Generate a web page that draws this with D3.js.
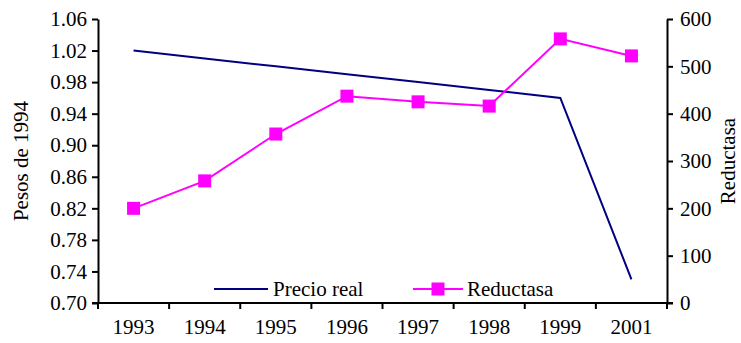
<!DOCTYPE html>
<html>
<head>
<meta charset="utf-8">
<script src="https://cdn.jsdelivr.net/npm/d3@7"></script>
<style>
  body { margin: 0; background: #fff; }
  svg { display: block; font-family: "Liberation Serif", "Times New Roman", serif; }
</style>
</head>
<body>
<svg id="chart"></svg>
<script>
// data
const years = ["1993", "1994", "1995", "1996", "1997", "1998", "1999", "2001"]
const precioReal = [1.02, 1.01, 1.00, 0.99, 0.98, 0.97, 0.96, 0.73]
const reductasa = [200, 258, 357, 437, 425, 416, 558, 522]
const leftTicks = [0.70, 0.74, 0.78, 0.82, 0.86, 0.90, 0.94, 0.98, 1.02, 1.06]
const rightTicks = [0, 100, 200, 300, 400, 500, 600]

const
    svgWidth = 741,
    svgHeight = 343,
    LEFT = 98,
    RIGHT = 667,
    TOP = 19,
    BOTTOM = 303,
    FS = 21

const svg = d3.select('#chart')
    .attr('width', svgWidth)
    .attr('height', svgHeight)

const x = d3.scaleBand().domain(years).range([LEFT, RIGHT])
const yL = d3.scaleLinear().domain([0.70, 1.06]).range([BOTTOM, TOP])
const yR = d3.scaleLinear().domain([0, 600]).range([BOTTOM, TOP])

// left axis
const axL = svg.append('g')
    .attr('transform', `translate(${LEFT},0)`)
    .call(d3.axisLeft(yL).tickValues(leftTicks).tickFormat(d3.format('.2f')).tickSize(6).tickPadding(5).tickSizeOuter(0))

// right axis
const axR = svg.append('g')
    .attr('transform', `translate(${RIGHT},0)`)
    .call(d3.axisRight(yR).tickValues(rightTicks).tickSize(6).tickPadding(7).tickSizeOuter(0))

// bottom axis, ticks at category boundaries
const axB = svg.append('g')
    .attr('transform', `translate(0,${BOTTOM})`)
    .call(d3.axisBottom(x).tickSize(0).tickPadding(16).tickSizeOuter(0))

axB.selectAll('.tick')
    .append('line')
    .attr('x1', -x.bandwidth() / 2).attr('x2', -x.bandwidth() / 2)
    .attr('y1', 0).attr('y2', 6)
axB.append('line')
    .attr('x1', RIGHT).attr('x2', RIGHT)
    .attr('y1', 0).attr('y2', 6)

;[axL, axR, axB].forEach(a => {
    a.attr('font-family', null).attr('font-size', null)
    a.selectAll('.domain').attr('stroke', '#000').attr('stroke-width', 2)
    a.selectAll('line').attr('stroke', '#000').attr('stroke-width', 2)
    a.selectAll('text').attr('font-size', FS).attr('fill', '#000')
})
axB.select('.domain').attr('d', `M${LEFT - 6},0H${RIGHT + 6}`)

// axis titles
svg.append('text')
    .attr('transform', `translate(28,${(TOP + BOTTOM) / 2}) rotate(-90)`)
    .attr('text-anchor', 'middle')
    .attr('font-size', FS)
    .text('Pesos de 1994')
svg.append('text')
    .attr('transform', `translate(735,${(TOP + BOTTOM) / 2}) rotate(-90)`)
    .attr('text-anchor', 'middle')
    .attr('font-size', FS)
    .text('Reductasa')

const cx = d => x(d) + x.bandwidth() / 2

// Precio real line
svg.append('path')
    .datum(precioReal)
    .attr('fill', 'none')
    .attr('stroke', '#000080')
    .attr('stroke-width', 2)
    .attr('d', d3.line().x((d, i) => cx(years[i])).y(d => yL(d)))

// Reductasa line + markers
svg.append('path')
    .datum(reductasa)
    .attr('fill', 'none')
    .attr('stroke', '#ff00ff')
    .attr('stroke-width', 2)
    .attr('d', d3.line().x((d, i) => cx(years[i])).y(d => yR(d)))

const M = 13
svg.selectAll('.marker')
    .data(reductasa)
    .join('rect')
    .attr('class', 'marker')
    .attr('x', (d, i) => cx(years[i]) - M / 2)
    .attr('y', d => yR(d) - M / 2)
    .attr('width', M)
    .attr('height', M)
    .attr('fill', '#ff00ff')

// legend
const lg = svg.append('g')
lg.append('line')
    .attr('x1', 214).attr('x2', 268).attr('y1', 289).attr('y2', 289)
    .attr('stroke', '#000080').attr('stroke-width', 2)
lg.append('text')
    .attr('x', 273).attr('y', 296)
    .attr('font-size', FS)
    .text('Precio real')
lg.append('line')
    .attr('x1', 413).attr('x2', 463).attr('y1', 289).attr('y2', 289)
    .attr('stroke', '#ff00ff').attr('stroke-width', 2)
lg.append('rect')
    .attr('x', 438 - M / 2).attr('y', 289 - M / 2)
    .attr('width', M).attr('height', M)
    .attr('fill', '#ff00ff')
lg.append('text')
    .attr('x', 467).attr('y', 296)
    .attr('font-size', FS)
    .text('Reductasa')
</script>
</body>
</html>
